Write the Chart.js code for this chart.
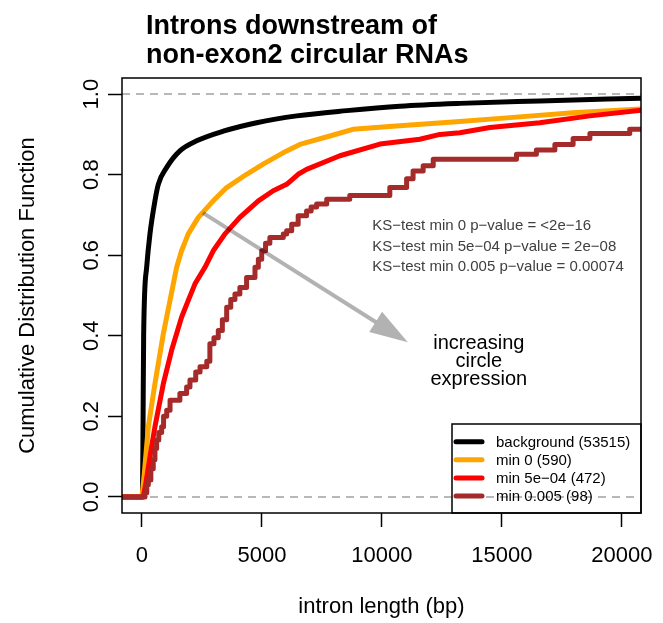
<!DOCTYPE html>
<html>
<head>
<meta charset="utf-8">
<script src="https://cdn.jsdelivr.net/npm/chart.js@4.4.0/dist/chart.umd.min.js"></script>
<style>
  body { margin: 0; background: #fff; }
  canvas { display: block; }
</style>
</head>
<body>
<canvas id="myChart" width="663" height="623"></canvas>
<script>
let fontFamily = "'Liberation Sans', Arial, Helvetica, sans-serif"

// text
let titleLines = ['Introns downstream of', 'non-exon2 circular RNAs']
let xTitle = 'intron length (bp)'
let yTitle = 'Cumulative Distribution Function'
let ksLines = [
    'KS\u2212test min 0 p\u2212value = <2e\u221216',
    'KS\u2212test min 5e\u221204 p\u2212value = 2e\u221208',
    'KS\u2212test min 0.005 p\u2212value = 0.00074'
]
let noteLines = ['increasing', 'circle', 'expression']

// axes
let xRange = [-833, 20800]
let yRange = [-0.04, 1.04]
let xTicks = [0, 5000, 10000, 15000, 20000]
let yTicks = [0, 0.2, 0.4, 0.6, 0.8, 1]
let refLines = [0, 1]

// series
let seriesLabels = ['background (53515)', 'min 0 (590)', 'min 5e\u221204 (472)', 'min 0.005 (98)']
let seriesColors = ['#000000', '#FFA500', '#FF0000', '#A52A2A']

let bgLen = [-833, 20, 45, 70, 195, 333, 540, 680, 1030, 1580, 2280, 3390, 4780, 6450, 8530, 10750, 13250, 16580, 20800]
let bgCdf = [0, 0, 0.19, 0.405, 0.57, 0.653, 0.735, 0.776, 0.818, 0.859, 0.884, 0.908, 0.929, 0.946, 0.959, 0.97, 0.977, 0.983, 0.99]

let min0Len = [-833, 0, 100, 264, 540, 890, 1170, 1445, 1650, 1930, 2350, 2970, 3530, 4360, 5050, 6030, 6580, 7830, 8790, 10600, 13250, 15200, 17960, 20800]
let min0Cdf = [0, 0, 0.06, 0.174, 0.281, 0.405, 0.488, 0.57, 0.611, 0.653, 0.694, 0.735, 0.768, 0.801, 0.826, 0.859, 0.875, 0.896, 0.9125, 0.921, 0.932, 0.941, 0.954, 0.963]

let min5e4Len = [-833, 50, 150, 400, 540, 890, 1235, 1650, 1930, 2210, 2625, 2970, 3460, 4080, 4850, 5470, 6030, 6510, 6860, 8250, 9920, 11580, 12420, 13250, 14500, 16580, 18670, 20800]
let min5e4Cdf = [0, 0, 0.03, 0.125, 0.174, 0.281, 0.364, 0.446, 0.488, 0.529, 0.57, 0.611, 0.653, 0.694, 0.735, 0.76, 0.776, 0.801, 0.813, 0.847, 0.876, 0.888, 0.90, 0.904, 0.917, 0.929, 0.946, 0.96]

let min005Len = [-833, 100, 125, 200, 265, 370, 470, 540, 610, 700, 820, 900, 1030, 1170, 1580, 1860, 2000, 2240, 2420, 2700, 2830, 3000, 3180, 3350, 3530, 3700, 3875, 4080, 4360, 4710, 4850, 4990, 5150, 5330, 5890, 6030, 6240, 6510, 6860, 7050, 7280, 7700, 8660, 10330, 11030, 11300, 11720, 12140, 15610, 16440, 17210, 17970, 18670, 20330, 20800]
let min005Cdf = [0, 0, 0.01, 0.03, 0.042, 0.07, 0.092, 0.12, 0.141, 0.16, 0.174, 0.2, 0.215, 0.24, 0.257, 0.273, 0.29, 0.31, 0.323, 0.337, 0.38, 0.395, 0.413, 0.44, 0.471, 0.49, 0.504, 0.52, 0.545, 0.57, 0.59, 0.611, 0.63, 0.644, 0.653, 0.661, 0.677, 0.698, 0.71, 0.72, 0.727, 0.739, 0.748, 0.768, 0.79, 0.809, 0.822, 0.838, 0.851, 0.861, 0.875, 0.89, 0.902, 0.9125, 0.9125]

let seriesX = [bgLen, min0Len, min5e4Len, min005Len]
let seriesY = [bgCdf, min0Cdf, min5e4Cdf, min005Cdf]

function toPoints(xs, ys) {
    return xs.map((x, i) => ({ x: x, y: ys[i] }))
}

let datasets = seriesLabels.map((label, i) => ({
    label: label,
    data: toPoints(seriesX[i], seriesY[i]),
    borderColor: seriesColors[i],
    backgroundColor: seriesColors[i],
    borderWidth: 5,
    pointRadius: 0,
    tension: 0,
    cubicInterpolationMode: i === 0 ? 'monotone' : 'default',
    stepped: i === 3 ? 'before' : false,
    borderCapStyle: 'round',
    borderJoinStyle: 'round',
    order: 4 - i
}))

refLines.forEach(v => {
    datasets.push({
        label: '',
        data: [{ x: xRange[0], y: v }, { x: xRange[1], y: v }],
        borderColor: '#b8b8b8',
        borderWidth: 2,
        borderDash: [8, 6],
        pointRadius: 0,
        order: 10
    })
})

// R-like decorations: box, title, annotations, arrow, legend
let rPlot = {
    id: 'rPlot',
    afterDraw(chart) {
        const ctx = chart.ctx
        const a = chart.chartArea
        const xs = chart.scales.x
        const ys = chart.scales.y
        ctx.save()

        // arrow
        let x1 = xs.getPixelForValue(2540), y1 = ys.getPixelForValue(0.705)
        let x2 = xs.getPixelForValue(11080), y2 = ys.getPixelForValue(0.384)
        let len = Math.hypot(x2 - x1, y2 - y1)
        let ux = (x2 - x1) / len, uy = (y2 - y1) / len
        let headLen = 38, headW = 12
        let bx = x2 - ux * headLen, by = y2 - uy * headLen
        ctx.strokeStyle = 'rgba(0,0,0,0.3)'
        ctx.fillStyle = 'rgba(0,0,0,0.3)'
        ctx.lineWidth = 4
        ctx.beginPath()
        ctx.moveTo(x1, y1)
        ctx.lineTo(bx, by)
        ctx.stroke()
        ctx.beginPath()
        ctx.moveTo(x2, y2)
        ctx.lineTo(bx - uy * headW, by + ux * headW)
        ctx.lineTo(bx + uy * headW, by - ux * headW)
        ctx.closePath()
        ctx.fill()

        // box
        ctx.strokeStyle = '#000'
        ctx.lineWidth = 1.5
        ctx.strokeRect(a.left, a.top, a.right - a.left, a.bottom - a.top)

        // title
        ctx.fillStyle = '#000'
        ctx.font = 'bold 27px ' + fontFamily
        ctx.textAlign = 'left'
        ctx.textBaseline = 'alphabetic'
        ctx.fillText(titleLines[0], 146, 34)
        ctx.fillText(titleLines[1], 146, 63)

        // KS text
        ctx.font = '15px ' + fontFamily
        ctx.fillStyle = '#404040'
        ctx.textBaseline = 'middle'
        let kx = xs.getPixelForValue(9600), ky = ys.getPixelForValue(0.622)
        ksLines.forEach((t, i) => ctx.fillText(t, kx, ky + (i - 1) * 20.5))

        // note
        ctx.font = '20px ' + fontFamily
        ctx.fillStyle = '#000'
        ctx.textAlign = 'center'
        let nx = xs.getPixelForValue(14040), ny = ys.getPixelForValue(0.335)
        noteLines.forEach((t, i) => ctx.fillText(t, nx, ny + (i - 1) * 18))

        // legend (bottom right, touching the box)
        let lw = 189, lh = 89
        let lx = a.right - lw, ly = a.bottom - lh
        ctx.strokeStyle = '#000'
        ctx.lineWidth = 1.5
        ctx.strokeRect(lx, ly, lw, lh)
        ctx.font = '15px ' + fontFamily
        ctx.textAlign = 'left'
        chart.data.datasets.filter(d => d.label).forEach((d, i) => {
            let ry = ly + 17.7 + i * 18.1
            ctx.strokeStyle = d.borderColor
            ctx.lineWidth = 5
            ctx.lineCap = 'round'
            ctx.beginPath()
            ctx.moveTo(lx + 4, ry)
            ctx.lineTo(lx + 30, ry)
            ctx.stroke()
            ctx.fillStyle = '#000'
            ctx.fillText(d.label, lx + 44, ry + 1)
        })

        ctx.restore()
    }
}

let myChart = document.getElementById('myChart').getContext('2d')

let chart = new Chart(myChart, {
    type: 'line',
    data: { datasets: datasets },
    options: {
        responsive: false,
        animation: false,
        devicePixelRatio: 1,
        layout: { padding: { top: 78, right: 22, bottom: 0, left: 0 } },
        plugins: {
            legend: { display: false },
            tooltip: { enabled: false },
            title: { display: false }
        },
        scales: {
            x: {
                type: 'linear',
                min: xRange[0],
                max: xRange[1],
                afterBuildTicks: s => { s.ticks = xTicks.map(v => ({ value: v })) },
                afterFit: s => { s.height = 110; s.paddingLeft = 0; s.paddingRight = 0 },
                ticks: {
                    autoSkip: false,
                    maxRotation: 0,
                    padding: 16,
                    color: '#000',
                    font: { size: 22, family: fontFamily },
                    callback: v => String(v)
                },
                grid: { drawOnChartArea: false, tickLength: 14, tickColor: '#000', tickWidth: 1.5 },
                border: { display: false },
                title: {
                    display: true,
                    text: xTitle,
                    color: '#000',
                    font: { size: 22, family: fontFamily },
                    padding: { top: 0, bottom: 3 }
                }
            },
            y: {
                type: 'linear',
                min: yRange[0],
                max: yRange[1],
                afterBuildTicks: s => { s.ticks = yTicks.map(v => ({ value: v })) },
                afterFit: s => { s.width = 122; s.paddingTop = 0; s.paddingBottom = 0 },
                ticks: {
                    minRotation: 90,
                    maxRotation: 90,
                    crossAlign: 'center',
                    padding: 1,
                    color: '#000',
                    font: { size: 22, family: fontFamily },
                    callback: v => v.toFixed(1)
                },
                grid: { drawOnChartArea: false, tickLength: 14, tickColor: '#000', tickWidth: 1.5 },
                border: { display: false },
                title: {
                    display: true,
                    text: yTitle,
                    color: '#000',
                    font: { size: 22, family: fontFamily },
                    padding: { top: 15, bottom: 0 }
                }
            }
        }
    },
    plugins: [rPlot]
})
</script>
</body>
</html>
